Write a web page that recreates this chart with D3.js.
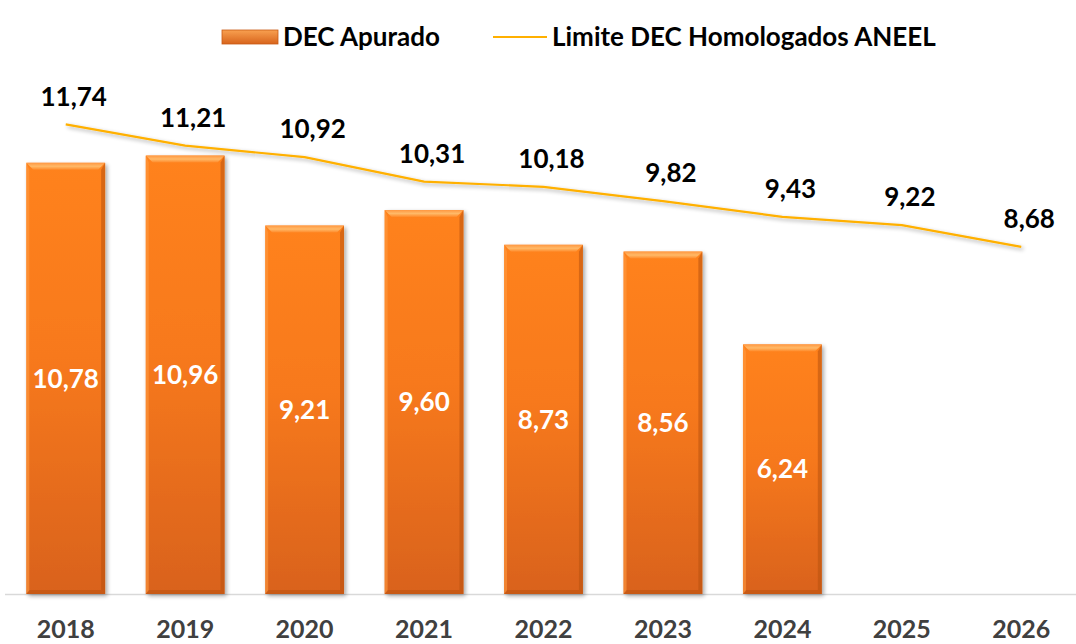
<!DOCTYPE html>
<html>
<head>
<meta charset="utf-8">
<script src="https://cdn.jsdelivr.net/npm/d3@7"></script>
<style>
	body { margin: 0; background: #fff; }
	svg { display: block; font-family: Lato, "Open Sans", sans-serif; font-weight: bold; }
</style>
</head>
<body>
<div id="chart"></div>
<script>
var years = ["2018", "2019", "2020", "2021", "2022", "2023", "2024", "2025", "2026"];
var barYears = ["2018", "2019", "2020", "2021", "2022", "2023", "2024"];
var decApurado = [10.78, 10.96, 9.21, 9.6, 8.73, 8.56, 6.24];
var limiteAneel = [11.74, 11.21, 10.92, 10.31, 10.18, 9.82, 9.43, 9.22, 8.68];
var seriesNames = ["DEC Apurado", "Limite DEC Homologados ANEEL"];

function fmt(v) {
	return v.toFixed(2).replace(".", ",");
}

function drawChart(code) {
	var width = 1076;
	var height = 644;

	var svg = d3
		.select(code)
		.append("svg")
		.attr("width", width)
		.attr("height", height);

	var defs = svg.append("defs");
	var grad = defs
		.append("linearGradient")
		.attr("id", "barGrad")
		.attr("x1", 0).attr("y1", 0)
		.attr("x2", 0).attr("y2", 1);
	grad.append("stop").attr("offset", "0%").attr("stop-color", "#ff821e");
	grad.append("stop").attr("offset", "45%").attr("stop-color", "#f7791c");
	grad.append("stop").attr("offset", "100%").attr("stop-color", "#d9621a");

	var topGrad = defs
		.append("linearGradient")
		.attr("id", "topGrad")
		.attr("x1", 0).attr("y1", 0)
		.attr("x2", 0).attr("y2", 1);
	topGrad.append("stop").attr("offset", "0%").attr("stop-color", "#ff9a45");
	topGrad.append("stop").attr("offset", "50%").attr("stop-color", "#ffbf70");
	topGrad.append("stop").attr("offset", "100%").attr("stop-color", "#ff8a2a");

	var legGrad = defs
		.append("linearGradient")
		.attr("id", "legGrad")
		.attr("x1", 0).attr("y1", 0)
		.attr("x2", 0).attr("y2", 1);
	legGrad.append("stop").attr("offset", "0%").attr("stop-color", "#f8a050");
	legGrad.append("stop").attr("offset", "100%").attr("stop-color", "#d8641c");

	var shadow = defs.append("filter").attr("id", "shadow")
		.attr("x", "-10%").attr("y", "-10%").attr("width", "130%").attr("height", "130%");
	shadow.append("feGaussianBlur").attr("in", "SourceAlpha").attr("stdDeviation", 2);
	shadow.append("feOffset").attr("dx", 2).attr("dy", 2).attr("result", "ob");
	shadow.append("feComponentTransfer").append("feFuncA").attr("type", "linear").attr("slope", 0.35);
	var merge = shadow.append("feMerge");
	merge.append("feMergeNode");
	merge.append("feMergeNode").attr("in", "SourceGraphic");

	var xScale = d3
		.scaleBand()
		.domain(years)
		.range([6, 1081])
		.paddingInner(0.34)
		.paddingOuter(0.17);

	var yScale = d3.scaleLinear().domain([0, 14]).range([594, 34]);

	// baseline
	var xAxis = d3.axisBottom(xScale).tickSize(0).tickPadding(26);
	var gx = svg
		.append("g")
		.attr("transform", "translate(0," + yScale(0) + ")")
		.call(xAxis);
	gx.select(".domain").attr("d", "M5,0.5H1076").attr("stroke", "#d9d9d9").attr("stroke-width", 1.5);
	gx.selectAll("text")
		.attr("font-size", "25px")
		.attr("font-family", "Lato, sans-serif")
		.attr("font-weight", "bold")
		.attr("fill", "#404040");

	var bars = barYears.map(function (y, i) {
		return { year: y, value: decApurado[i] };
	});

	var bw = xScale.bandwidth();
	var bev = 7;
	var barG = svg
		.selectAll(".bar")
		.data(bars)
		.enter()
		.append("g")
		.attr("class", "bar");

	barG.append("rect")
		.attr("x", (d) => xScale(d.year))
		.attr("y", (d) => yScale(d.value))
		.attr("width", bw)
		.attr("height", (d) => yScale(0) - yScale(d.value))
		.attr("fill", "url(#barGrad)")
		.attr("filter", "url(#shadow)");

	// bevel: top lighter, sides darker
	barG.append("path")
		.attr("d", function (d) {
			var x0 = xScale(d.year), x1 = x0 + bw, y0 = yScale(d.value);
			return "M" + x0 + "," + y0 + "L" + x1 + "," + y0 + "L" + (x1 - bev) + "," + (y0 + bev) + "L" + (x0 + bev) + "," + (y0 + bev) + "Z";
		})
		.attr("fill", "url(#topGrad)")
		.attr("opacity", 0.9);
	barG.append("path")
		.attr("d", function (d) {
			var x0 = xScale(d.year), x1 = x0 + bw, y0 = yScale(d.value), yb = yScale(0);
			return "M" + x1 + "," + y0 + "L" + x1 + "," + yb + "L" + (x1 - 4) + "," + (yb - 4) + "L" + (x1 - 4) + "," + (y0 + bev) + "Z";
		})
		.attr("fill", "#b8520f")
		.attr("opacity", 0.55);
	barG.append("path")
		.attr("d", function (d) {
			var x0 = xScale(d.year), y0 = yScale(d.value), yb = yScale(0);
			return "M" + x0 + "," + y0 + "L" + (x0 + 3) + "," + (y0 + bev) + "L" + (x0 + 3) + "," + (yb - 3) + "L" + x0 + "," + yb + "Z";
		})
		.attr("fill", "#ff9a40")
		.attr("opacity", 0.6);
	barG.append("path")
		.attr("d", function (d) {
			var x0 = xScale(d.year), x1 = x0 + bw, yb = yScale(0);
			return "M" + x0 + "," + yb + "L" + x1 + "," + yb + "L" + (x1 - 4) + "," + (yb - 4) + "L" + (x0 + 3) + "," + (yb - 4) + "Z";
		})
		.attr("fill", "#b8520f")
		.attr("opacity", 0.5);

	barG.append("text")
		.attr("x", (d) => xScale(d.year) + bw / 2)
		.attr("y", (d) => (yScale(d.value) + yScale(0)) / 2)
		.attr("dy", ".35em")
		.attr("text-anchor", "middle")
		.attr("font-size", "26px")
		.attr("fill", "#ffffff")
		.text((d) => fmt(d.value));

	// limit line
	var lineData = years.map(function (y, i) {
		return { year: y, value: limiteAneel[i] };
	});
	var line = d3
		.line()
		.x((d) => xScale(d.year) + bw / 2)
		.y((d) => yScale(d.value));

	svg.append("path")
		.datum(lineData)
		.attr("d", line)
		.attr("fill", "none")
		.attr("stroke", "#ffb000")
		.attr("stroke-width", 2.2)
		.attr("filter", "url(#shadow)");

	svg.selectAll(".lineLabel")
		.data(lineData)
		.enter()
		.append("text")
		.attr("class", "lineLabel")
		.attr("x", (d) => xScale(d.year) + bw / 2 + 8)
		.attr("y", (d) => yScale(d.value) - 28)
		.attr("dy", ".35em")
		.attr("text-anchor", "middle")
		.attr("font-size", "26px")
		.attr("fill", "#000")
		.text((d) => fmt(d.value));

	// legend
	var leg = svg.append("g");
	leg.append("rect")
		.attr("x", 222).attr("y", 30)
		.attr("width", 56).attr("height", 14)
		.attr("fill", "url(#legGrad)")
		.attr("stroke", "#c85a14").attr("stroke-width", 0.8);
	leg.append("text")
		.attr("x", 283).attr("y", 37).attr("dy", ".35em")
		.attr("font-size", "26px").attr("fill", "#000")
		.text(seriesNames[0]);
	leg.append("line")
		.attr("x1", 493).attr("x2", 547)
		.attr("y1", 37).attr("y2", 37)
		.attr("stroke", "#ffb000").attr("stroke-width", 2);
	leg.append("text")
		.attr("x", 552).attr("y", 37).attr("dy", ".35em")
		.attr("font-size", "26px").attr("fill", "#000")
		.text(seriesNames[1]);
}

drawChart("#chart");
</script>
</body>
</html>
